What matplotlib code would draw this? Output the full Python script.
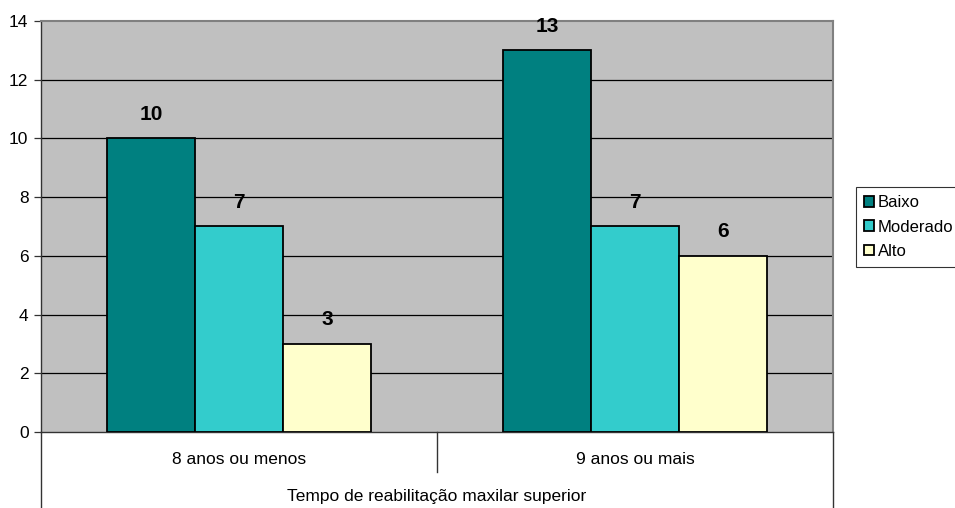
import matplotlib.pyplot as plt
import numpy as np

plt.rcParams['font.family'] = ['Liberation Sans', 'DejaVu Sans']

categories = ['8 anos ou menos', '9 anos ou mais']
series = ['Baixo', 'Moderado', 'Alto']
values = {
    'Baixo': [10, 13],
    'Moderado': [7, 7],
    'Alto': [3, 6],
}
colors = {'Baixo': '#008080', 'Moderado': '#33CCCC', 'Alto': '#FFFFCC'}
yticks = [0, 2, 4, 6, 8, 10, 12, 14]
xlabel = 'Tempo de reabilitação maxilar superior'

W, H = 955, 508
fig = plt.figure(figsize=(W / 100, H / 100), dpi=100)
ax = fig.add_axes([41 / W, (H - 432) / H, (833 - 41) / W, (432 - 21) / H])
ax.set_facecolor('#C0C0C0')

x = np.arange(len(categories))
bw = 0.2225
for i, s in enumerate(series):
    pos = x + (i - 1) * bw
    ax.bar(pos, values[s], width=bw, color=colors[s], edgecolor='black',
           linewidth=1.3, label=s, zorder=3)
    for px, v in zip(pos, values[s]):
        ax.text(px, v + 0.5, str(v), ha='center', va='bottom',
                fontsize=15, fontweight='bold', zorder=4)

ax.set_xlim(-0.5, 1.5)
ax.set_ylim(0, 14)
ax.set_yticks(yticks)
ax.set_yticklabels([str(t) for t in yticks], fontsize=12.5)
# gridlines only inside the plot area (top edge is the gray border)
ax.hlines(yticks[1:-1], -0.5, 1.5, color='black', linewidth=0.9, zorder=1)
ax.tick_params(axis='y', direction='out', length=5, width=0.9, pad=4,
               color='#333333')
ax.set_xticks([])
ax.spines['top'].set_color('#808080')
ax.spines['right'].set_color('#808080')
ax.spines['top'].set_linewidth(1.5)
ax.spines['right'].set_linewidth(1.5)
for sp in ['left', 'bottom']:
    ax.spines[sp].set_color('#333333')
    ax.spines[sp].set_linewidth(1.0)

# category axis table lines
trans = ax.get_xaxis_transform()
y_full = -(508 - 432) / (432 - 21)
y_mid = -(472 - 432) / (432 - 21)
for xx, yy in [(-0.5, y_full), (1.5, y_full), (0.5, y_mid)]:
    ax.plot([xx, xx], [0, yy], transform=trans, color='#333333',
            linewidth=1.0, clip_on=False)
for xi, c in zip(x, categories):
    ax.text(xi, -(460 - 432) / (432 - 21), c, transform=trans,
            ha='center', va='center', fontsize=12.5)
ax.text(0.5, -(497 - 432) / (432 - 21), xlabel, transform=ax.transAxes,
        ha='center', va='center', fontsize=12.5)

leg = fig.legend(loc='upper left', bbox_to_anchor=(856 / W, 1 - 187 / H),
                 fontsize=12, frameon=True, fancybox=False, edgecolor='black',
                 handlelength=0.6, handleheight=0.6, handletextpad=0.2,
                 borderpad=0.5, labelspacing=0.55, borderaxespad=0)
leg.get_frame().set_linewidth(0.8)

fig.savefig('out.png', dpi=100)
